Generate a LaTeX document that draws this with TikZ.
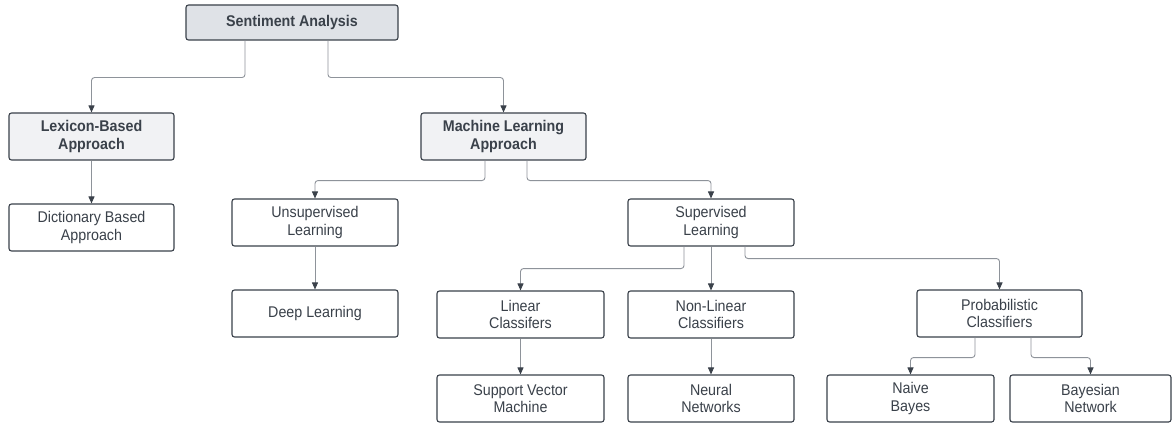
\documentclass[tikz,border=0pt]{standalone}
\usepackage{fontspec}
\setmainfont{Liberation Sans}[FakeStretch=0.92]
\usetikzlibrary{arrows.meta,calc}
\definecolor{bordc}{HTML}{3A414A}
\definecolor{txtc}{HTML}{3A414A}
\definecolor{linec}{HTML}{8E939A}
\definecolor{hdfill}{HTML}{DFE2E7}
\definecolor{subfill}{HTML}{F1F2F4}
\tikzset{
  box/.style={draw=bordc, line width=1.1pt, rounded corners=2.5pt, fill=white, text=txtc,
    align=center, inner sep=0pt, font=\fontsize{15.5}{17.5}\selectfont},
  hbox/.style={box, font=\fontsize{15.5}{17.5}\selectfont\bfseries},
  conn/.style={draw=linec, line width=0.9pt, rounded corners=3pt,
    -{Triangle[length=7pt,width=6pt,color=bordc]}}
}
\begin{document}
\begin{tikzpicture}[x=1pt,y=-1pt]
\useasboundingbox[fill=white] (0,0) rectangle (1172,425);
\node[hbox, fill=hdfill, minimum width=212pt, minimum height=35pt] (sa) at (292,22.5) {Sentiment Analysis};
\node[hbox, fill=subfill, minimum width=165pt, minimum height=47pt] (lex) at (91.5,136.5) {Lexicon-Based\\Approach};
\node[hbox, fill=subfill, minimum width=165pt, minimum height=47pt] (ml) at (503.5,136.5) {Machine Learning\\Approach};
\node[box, minimum width=165pt, minimum height=47pt] (dict) at (91.5,227.5) {Dictionary Based\\Approach};
\node[box, minimum width=166pt, minimum height=47pt] (uns) at (315,222.5) {Unsupervised\\Learning};
\node[box, minimum width=166pt, minimum height=47pt] (deep) at (315,313.5) {Deep Learning};
\node[box, minimum width=166pt, minimum height=47pt] (sup) at (711,222.5) {Supervised\\Learning};
\node[box, minimum width=167pt, minimum height=47pt] (lin) at (520.5,314.5) {Linear\\Classifers};
\node[box, minimum width=166pt, minimum height=47pt] (nonlin) at (711,314.5) {Non-Linear\\Classifiers};
\node[box, minimum width=165pt, minimum height=47pt] (prob) at (999.5,313.5) {Probabilistic\\Classifiers};
\node[box, minimum width=167pt, minimum height=47pt] (svm) at (520.5,398.5) {Support Vector\\Machine};
\node[box, minimum width=166pt, minimum height=47pt] (nn) at (711,398.5) {Neural\\Networks};
\node[box, minimum width=167pt, minimum height=47pt] (nb) at (910.5,398.5) {Naive\\Bayes};
\node[box, minimum width=161pt, minimum height=47pt] (bn) at (1090.5,398.5) {Bayesian\\Network};

\draw[conn] ($(sa.south)+(-47,0)$) -- ++(0,37) -| (lex.north);
\draw[conn] ($(sa.south)+(36,0)$) -- ++(0,37) -| (ml.north);
\draw[conn] (lex.south) -- (dict.north);
\draw[conn] ($(ml.south)+(-18.5,0)$) -- ++(0,20) -| (uns.north);
\draw[conn] ($(ml.south)+(23.5,0)$) -- ++(0,20) -| (sup.north);
\draw[conn] (uns.south) -- (deep.north);
\draw[conn] ($(sup.south)+(-27,0)$) -- ++(0,22) -| (lin.north);
\draw[conn] (sup.south) -- (nonlin.north);
\draw[conn] ($(sup.south)+(34,0)$) -- ++(0,12) -| (prob.north);
\draw[conn] (lin.south) -- (svm.north);
\draw[conn] (nonlin.south) -- (nn.north);
\draw[conn] ($(prob.south)+(-24.5,0)$) -- ++(0,20) -| (nb.north);
\draw[conn] ($(prob.south)+(31.5,0)$) -- ++(0,20) -| (bn.north);
\end{tikzpicture}
\end{document}
